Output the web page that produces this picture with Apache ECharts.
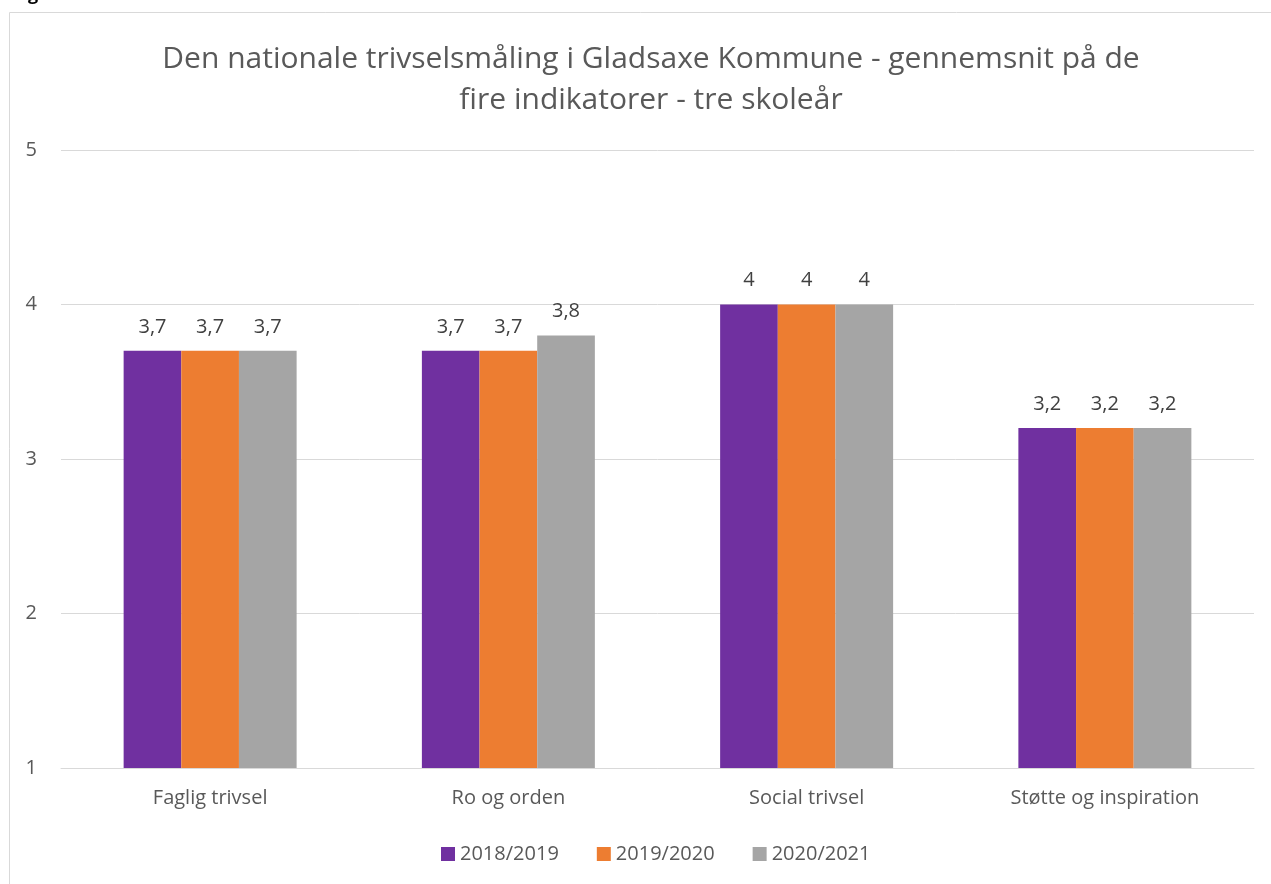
<!DOCTYPE html>
<html><head><meta charset="utf-8">
<script src="https://cdn.jsdelivr.net/npm/echarts@6/dist/echarts.min.js"></script>
<style>html,body{margin:0;padding:0;background:#fff;}#c{width:1271px;height:884px;}</style>
</head><body><div id="c"></div>
<script>
const categories = ['Faglig trivsel', 'Ro og orden', 'Social trivsel', 'Støtte og inspiration'];
const seriesNames = ['2018/2019', '2019/2020', '2020/2021'];
const values2018 = [3.7, 3.7, 4, 3.2];
const values2019 = [3.7, 3.7, 4, 3.2];
const values2020 = [3.7, 3.8, 4, 3.2];
const colors = ['#7030A0', '#ED7D31', '#A5A5A5'];
const font = 'Open Sans';
const chart = echarts.init(document.getElementById('c'), null, {renderer: 'canvas'});
const mk = (name, data, color) => ({
  name, type: 'bar', data, barGap: '0%', barCategoryGap: '42%',
  itemStyle: {color},
  label: {show: true, position: 'top', distance: 14, color: '#404040', fontSize: 20, fontFamily: font,
    formatter: p => String(p.value).replace('.', ',')}
});
chart.setOption({
  animation: false,
  graphic: [
    {type: 'rect', shape: {x: 9.5, y: 12.5, width: 1300, height: 900}, style: {fill: 'none', stroke: '#D9D9D9', lineWidth: 1}},
    {type: 'text', left: 28, top: -14, style: {text: 'g', fill: '#000', font: 'bold 18px "Open Sans"'}}
  ],
  title: {
    text: 'Den nationale trivselsmåling i Gladsaxe Kommune - gennemsnit på de\nfire indikatorer - tre skoleår',
    left: 646, top: 34, textAlign: 'center',
    textStyle: {fontSize: 30, fontWeight: 'normal', color: '#595959', fontFamily: font, lineHeight: 41}
  },
  legend: {
    data: seriesNames, bottom: 15, left: 436, itemWidth: 14, itemHeight: 14, itemGap: 38,
    icon: 'rect', textStyle: {fontSize: 20, color: '#595959', fontFamily: font}
  },
  grid: {left: 61, right: 17, top: 150, bottom: 116, containLabel: false},
  xAxis: {
    type: 'category', data: categories,
    axisLine: {lineStyle: {color: '#D9D9D9', width: 1}},
    axisTick: {show: false},
    axisLabel: {fontSize: 20, color: '#595959', fontFamily: font, margin: 20}
  },
  yAxis: {
    type: 'value', min: 1, max: 5, interval: 1,
    axisLine: {show: false}, axisTick: {show: false},
    splitLine: {lineStyle: {color: '#D9D9D9', width: 1}},
    axisLabel: {fontSize: 20, color: '#595959', fontFamily: font, margin: 24}
  },
  series: [mk(seriesNames[0], values2018, colors[0]), mk(seriesNames[1], values2019, colors[1]), mk(seriesNames[2], values2020, colors[2])]
});
</script></body></html>
